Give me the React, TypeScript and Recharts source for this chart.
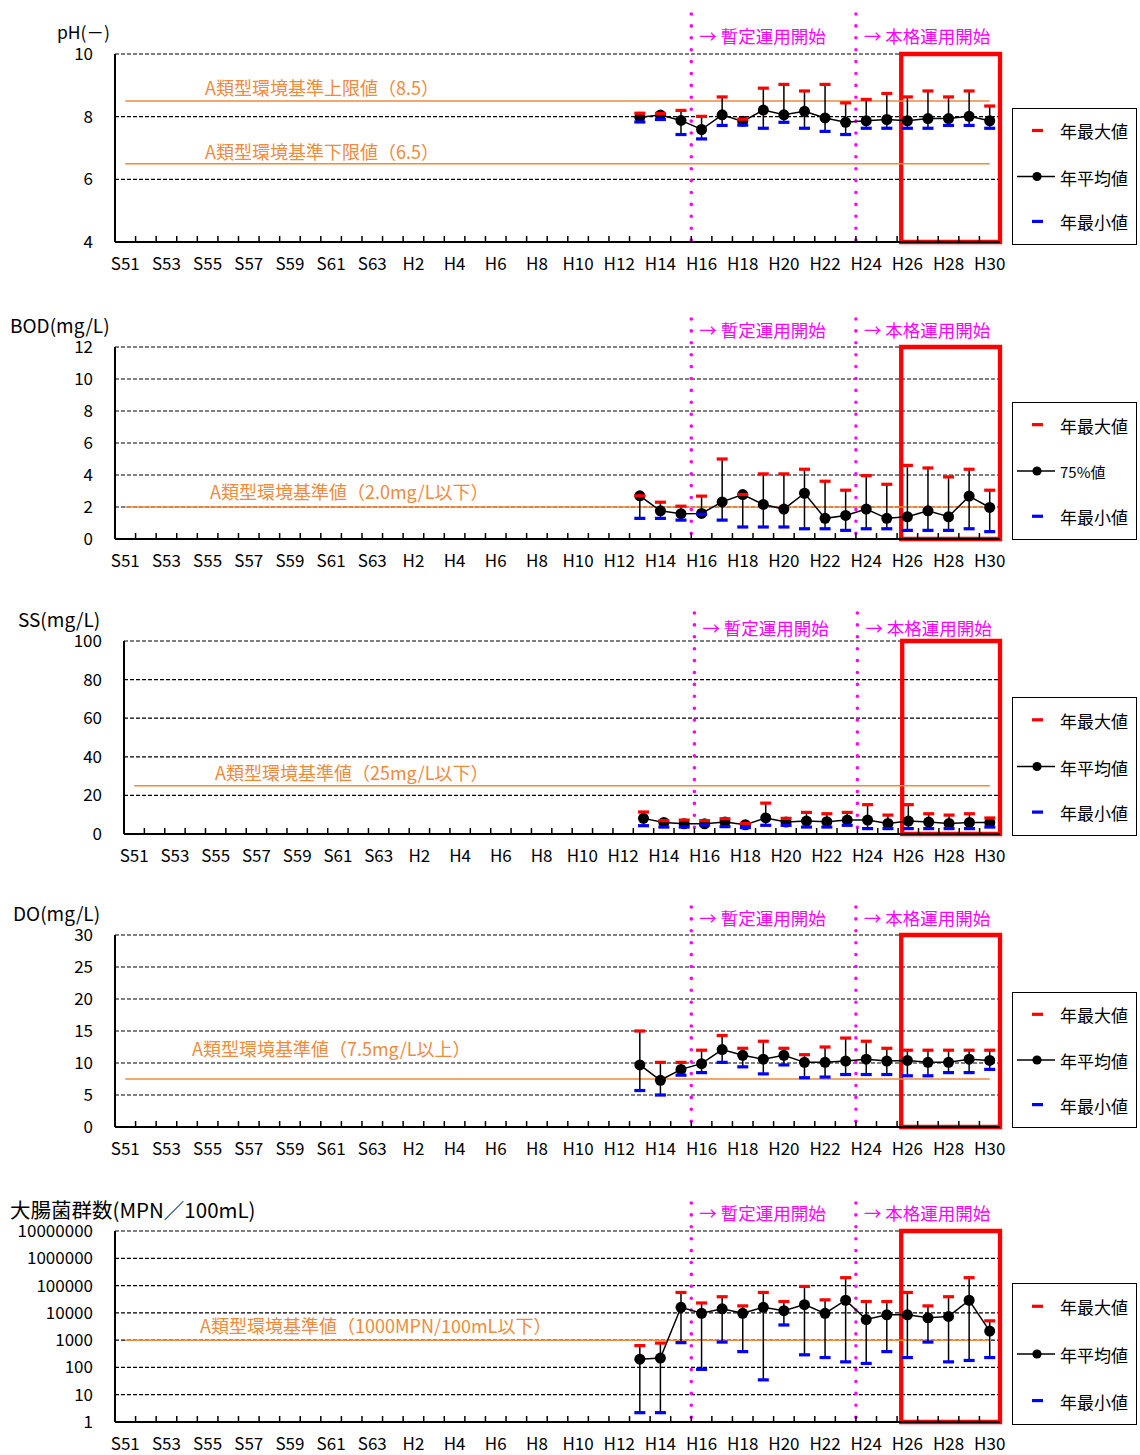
import React from 'react';
import {
  ComposedChart,
  Line,
  XAxis,
  YAxis,
  CartesianGrid,
  ErrorBar,
  ReferenceLine,
  ReferenceArea,
  Legend,
  Customized,
} from 'recharts';

const FONT = '"Noto Sans CJK JP", "Noto Sans", sans-serif';
const ORANGE = '#F08A3C';
const MAGENTA = '#FF00FF';
const RED = '#FF0000';
const BLUE = '#0000FF';

// ---- categories / tick labels ----
const categories = [
  'S51', 'S52', 'S53', 'S54', 'S55', 'S56', 'S57', 'S58', 'S59', 'S60', 'S61', 'S62', 'S63',
  'H1', 'H2', 'H3', 'H4', 'H5', 'H6', 'H7', 'H8', 'H9', 'H10', 'H11', 'H12', 'H13', 'H14', 'H15',
  'H16', 'H17', 'H18', 'H19', 'H20', 'H21', 'H22', 'H23', 'H24', 'H25', 'H26', 'H27', 'H28', 'H29', 'H30',
];
const labelTicks = [0, 2, 4, 6, 8, 10, 12, 14, 16, 18, 20, 22, 24, 26, 28, 30, 32, 34, 36, 38, 40, 42];
const boundaryTicks = [
  0.5, 1.5, 2.5, 3.5, 4.5, 5.5, 6.5, 7.5, 8.5, 9.5, 10.5, 11.5, 12.5, 13.5, 14.5, 15.5, 16.5, 17.5, 18.5, 19.5, 20.5,
  21.5, 22.5, 23.5, 24.5, 25.5, 26.5, 27.5, 28.5, 29.5, 30.5, 31.5, 32.5, 33.5, 34.5, 35.5, 36.5, 37.5, 38.5, 39.5, 40.5, 41.5,
];
const dataYears = ['H13', 'H14', 'H15', 'H16', 'H17', 'H18', 'H19', 'H20', 'H21', 'H22', 'H23', 'H24', 'H25', 'H26', 'H27', 'H28', 'H29', 'H30'];

// ---- pH ----
const phMax = [8.11, 8.1, 8.2, 8.01, 8.63, 7.92, 8.91, 9.03, 8.82, 9.03, 8.44, 8.55, 8.74, 8.63, 8.82, 8.63, 8.82, 8.34];
const phMean = [7.98, 8.05, 7.88, 7.59, 8.06, 7.85, 8.21, 8.06, 8.17, 7.96, 7.82, 7.87, 7.91, 7.87, 7.94, 7.94, 8.01, 7.87];
const phMin = [7.83, 7.91, 7.43, 7.29, 7.72, 7.73, 7.63, 7.82, 7.63, 7.53, 7.43, 7.63, 7.63, 7.63, 7.63, 7.72, 7.72, 7.63];
const phUpper = 8.5;
const phLower = 6.5;

// ---- BOD ----
const bodMax = [2.7, 2.3, 2.05, 2.68, 5.0, 2.78, 4.07, 4.07, 4.36, 3.61, 3.05, 3.96, 3.42, 4.6, 4.44, 3.88, 4.36, 3.05];
const bod75 = [2.7, 1.76, 1.58, 1.6, 2.32, 2.78, 2.16, 1.87, 2.86, 1.29, 1.47, 1.87, 1.29, 1.39, 1.76, 1.39, 2.68, 1.97];
const bodMin = [1.29, 1.29, 1.18, 1.55, 1.18, 0.75, 0.75, 0.75, 0.64, 0.64, 0.54, 0.64, 0.64, 0.54, 0.54, 0.54, 0.64, 0.46];
const bodStd = 2.0;

// ---- SS ----
const ssMax = [11.4, 6.9, 7.2, 6.9, 7.9, 5.5, 16.0, 8.1, 11.2, 10.5, 11.2, 15.2, 9.8, 15.2, 10.5, 9.8, 10.5, 8.3];
const ssMean = [8.1, 6.0, 5.3, 5.3, 6.2, 4.8, 8.3, 6.2, 6.7, 6.4, 7.2, 7.2, 5.5, 6.7, 6.2, 5.5, 6.0, 5.9];
const ssMin = [4.3, 3.6, 3.6, 4.7, 3.8, 3.3, 4.5, 4.5, 3.6, 3.6, 4.5, 2.8, 2.8, 2.8, 2.8, 2.8, 2.8, 3.6];
const ssStd = 25;

// ---- DO ----
const doMax = [15.0, 10.1, 10.1, 12.0, 14.3, 12.3, 13.4, 12.3, 11.3, 12.5, 13.9, 13.4, 12.3, 12.0, 12.0, 12.0, 12.0, 12.0];
const doMean = [9.7, 7.3, 9.0, 9.9, 12.1, 11.2, 10.6, 11.2, 10.1, 10.1, 10.3, 10.6, 10.3, 10.4, 10.1, 10.1, 10.6, 10.4];
const doMin = [5.7, 5.0, 8.1, 8.5, 10.1, 9.4, 8.3, 9.7, 7.7, 7.8, 8.2, 8.2, 8.2, 8.0, 8.0, 8.5, 8.5, 9.0];
const doStd = 7.5;

// ---- Coliform ----
const coliMax = [630, 780, 56000, 23000, 39000, 18000, 56000, 26000, 93000, 30000, 195000, 26000, 26000, 56000, 18000, 39000, 195000, 5100];
const coliMean = [200, 220, 16000, 9600, 14000, 9600, 16000, 12000, 20000, 9600, 29000, 5700, 8500, 8500, 6600, 7400, 29000, 2150];
const coliMin = [2.2, 2.2, 810, 85, 850, 380, 35, 3600, 290, 230, 160, 140, 380, 230, 850, 160, 180, 230];
const coliStd = 1000;

// ---- layout ----
const PANEL_W = 1140;
const PLOT_RIGHT = 1000;
const TOP_MARGIN = 50;
const X_AXIS_H = 40;

type Std = { value: number; label: string; lx: number; ly: number };
type PanelCfg = {
  id: string;
  title: string;
  titleX: number;
  titleY: number;
  titleSize: number;
  plotTop: number;
  plotH: number;
  plotLeft: number;
  yDomain: [number, number];
  yTicks: number[];
  log?: boolean;
  maxVals: number[];
  centerVals: number[];
  minVals: number[];
  centerName: string;
  stds: Std[];
  legendTop: number;
  legendH: number;
  annotUp: number;
  dotUp: number;
};

function buildRows(maxVals: number[], centerVals: number[], minVals: number[], stdVals: number[]) {
  return categories.map((c, i) => {
    const k = dataYears.indexOf(c);
    const row: any = { x: i, cat: c };
    stdVals.forEach((v, j) => {
      row['std' + j] = v;
    });
    row.max = k >= 0 ? maxVals[k] : null;
    row.center = k >= 0 ? centerVals[k] : null;
    row.min = k >= 0 ? minVals[k] : null;
    return row;
  });
}

const errKey = (r: any) => (r.center == null ? null : [r.center - r.min, r.max - r.center]);

const capDot = (color: string) => (p: any) => {
  const { cx, cy, index } = p;
  if (cy == null || cx == null || Number.isNaN(cy)) return <g key={`c-${color}-${index}`} />;
  return <rect key={`c-${color}-${index}`} x={cx - 5.5} y={cy - 1.6} width={11} height={3.2} fill={color} />;
};

function LegendBox({ h, centerName }: { h: number; centerName: string }) {
  const ys = [0.164 * h, 0.5 * h, 0.828 * h];
  return (
    <svg width={126} height={h} style={{ display: 'block' }} fontFamily={FONT}>
      <rect x={0.5} y={0.5} width={124} height={h - 1} fill="#fff" stroke="#000" strokeWidth={1} />
      <rect x={20} y={ys[0] - 1.6} width={11} height={3.2} fill={RED} />
      <text x={48} y={ys[0] + 0.5} fontSize={17} dominantBaseline="central" fill="#000">年最大値</text>
      <line x1={5} x2={43} y1={ys[1]} y2={ys[1]} stroke="#000" strokeWidth={1.5} />
      <circle cx={25} cy={ys[1]} r={4.6} fill="#000" />
      <text x={48} y={ys[1] + 0.5} fontSize={centerName === '75%値' ? 15 : 17} dominantBaseline="central" fill="#000">
        {centerName}
      </text>
      <rect x={20} y={ys[2] - 1.6} width={11} height={3.2} fill={BLUE} />
      <text x={48} y={ys[2] + 0.5} fontSize={17} dominantBaseline="central" fill="#000">年最小値</text>
    </svg>
  );
}

function Panel({ cfg }: { cfg: PanelCfg }) {
  const rows = buildRows(cfg.maxVals, cfg.centerVals, cfg.minVals, cfg.stds.map((s) => s.value));
  const top = cfg.plotTop - TOP_MARGIN;
  const height = TOP_MARGIN + cfg.plotH + X_AXIS_H;

  const annot = (text: string) => (p: any) => {
    const x = Number(p.x1);
    const yTop = Math.min(Number(p.y1), Number(p.y2));
    const yBot = Math.max(Number(p.y1), Number(p.y2));
    return (
      <g>
        <line
          x1={x}
          x2={x}
          y1={yTop - cfg.dotUp}
          y2={yBot}
          stroke={MAGENTA}
          strokeWidth={3.6}
          strokeDasharray="0 11.9"
          strokeLinecap="round"
        />
        <text x={x + 8} y={yTop - cfg.annotUp} fill={MAGENTA} fontSize={17.5} fontFamily={FONT} dominantBaseline="central">
          {text}
        </text>
      </g>
    );
  };

  return (
    <div style={{ position: 'absolute', left: 0, top, width: PANEL_W, height }}>
      <ComposedChart
        width={PANEL_W}
        height={height}
        data={rows}
        margin={{ top: TOP_MARGIN, right: PANEL_W - PLOT_RIGHT, bottom: 0, left: 0 }}
      >
        <CartesianGrid horizontal vertical={false} stroke="#000" strokeDasharray="4 2" strokeWidth={1.2} />
        <XAxis
          dataKey="x"
          type="number"
          domain={[-0.5, 42.5]}
          allowDataOverflow
          ticks={labelTicks}
          interval={0}
          tickFormatter={(v: number) => categories[v] ?? ''}
          tickLine={false}
          tickSize={0}
          tickMargin={16}
          height={X_AXIS_H}
          axisLine={{ stroke: '#000', strokeWidth: 2 }}
          tick={{ fill: '#000', fontSize: 17, fontFamily: FONT }}
        />
        <XAxis
          xAxisId="t"
          dataKey="x"
          type="number"
          domain={[-0.5, 42.5]}
          allowDataOverflow
          ticks={boundaryTicks}
          interval={0}
          mirror
          axisLine={false}
          tickSize={6}
          tickLine={{ stroke: '#000', strokeWidth: 1.5 }}
          tickFormatter={() => ''}
        />
        <YAxis
          type="number"
          scale={cfg.log ? 'log' : 'auto'}
          domain={cfg.yDomain}
          allowDataOverflow
          ticks={cfg.yTicks}
          interval={0}
          width={cfg.plotLeft}
          tickLine={false}
          tickSize={0}
          tickMargin={22}
          axisLine={{ stroke: '#000', strokeWidth: 2 }}
          tick={{ fill: '#000', fontSize: 17, fontFamily: FONT }}
        />
        <ReferenceLine x={27.5} ifOverflow="visible" shape={annot('→ 暫定運用開始')} />
        <ReferenceLine x={35.5} ifOverflow="visible" shape={annot('→ 本格運用開始')} />
        {cfg.stds.map((s, j) => (
          <Line
            key={'std' + j}
            dataKey={'std' + j}
            stroke={ORANGE}
            strokeWidth={1.5}
            dot={false}
            activeDot={false}
            isAnimationActive={false}
            legendType="none"
          />
        ))}
        <Line
          dataKey="center"
          stroke="#000"
          strokeWidth={1.5}
          dot={{ r: 5.5, fill: '#000', stroke: 'none' }}
          activeDot={false}
          isAnimationActive={false}
          legendType="none"
        >
          <ErrorBar dataKey={errKey} width={0} stroke="#000" strokeWidth={1.5} direction="y" />
        </Line>
        <Line
          dataKey="max"
          stroke="none"
          dot={capDot(RED)}
          activeDot={false}
          isAnimationActive={false}
          legendType="none"
        />
        <Line
          dataKey="min"
          stroke="none"
          dot={capDot(BLUE)}
          activeDot={false}
          isAnimationActive={false}
          legendType="none"
        />
        <ReferenceArea x1={37.7} x2={42.5} fill="none" stroke={RED} strokeWidth={4.3} ifOverflow="visible" />
        <Customized
          component={() => (
            <g fontFamily={FONT}>
              <text x={cfg.titleX} y={cfg.titleY - top} fontSize={cfg.titleSize} dominantBaseline="central" fill="#000">
                {cfg.title}
              </text>
              {cfg.stds.map((s, i) => (
                <text key={i} x={s.lx} y={s.ly - top} fill={ORANGE} fontSize={18} dominantBaseline="central">
                  {s.label}
                </text>
              ))}
            </g>
          )}
        />
        <Legend
          layout="horizontal"
          align="center"
          verticalAlign="middle"
          wrapperStyle={{ left: 1012, top: cfg.legendTop - top, width: 126, height: cfg.legendH, margin: 0, padding: 0 }}
          content={() => <LegendBox h={cfg.legendH} centerName={cfg.centerName} />}
        />
      </ComposedChart>
    </div>
  );
}

const panels: PanelCfg[] = [
  {
    id: 'ph',
    title: 'pH(－)',
    titleX: 57,
    titleY: 31,
    titleSize: 17.5,
    plotTop: 54,
    plotH: 188,
    plotLeft: 115,
    yDomain: [4, 10],
    yTicks: [4, 6, 8, 10],
    maxVals: phMax,
    centerVals: phMean,
    minVals: phMin,
    centerName: '年平均値',
    stds: [
      { value: phUpper, label: 'A類型環境基準上限値（8.5）', lx: 205, ly: 87 },
      { value: phLower, label: 'A類型環境基準下限値（6.5）', lx: 205, ly: 151 },
    ],
    legendTop: 107.5,
    legendH: 137,
    annotUp: 19,
    dotUp: 40,
  },
  {
    id: 'bod',
    title: 'BOD(mg/L)',
    titleX: 10,
    titleY: 324,
    titleSize: 19,
    plotTop: 347,
    plotH: 192,
    plotLeft: 115,
    yDomain: [0, 12],
    yTicks: [0, 2, 4, 6, 8, 10, 12],
    maxVals: bodMax,
    centerVals: bod75,
    minVals: bodMin,
    centerName: '75%値',
    stds: [{ value: bodStd, label: 'A類型環境基準値（2.0mg/L以下）', lx: 210, ly: 491 }],
    legendTop: 402,
    legendH: 138,
    annotUp: 18,
    dotUp: 28,
  },
  {
    id: 'ss',
    title: 'SS(mg/L)',
    titleX: 18,
    titleY: 618,
    titleSize: 19,
    plotTop: 641,
    plotH: 193,
    plotLeft: 124,
    yDomain: [0, 100],
    yTicks: [0, 20, 40, 60, 80, 100],
    maxVals: ssMax,
    centerVals: ssMean,
    minVals: ssMin,
    centerName: '年平均値',
    stds: [{ value: ssStd, label: 'A類型環境基準値（25mg/L以下）', lx: 215, ly: 772 }],
    legendTop: 697,
    legendH: 139,
    annotUp: 14,
    dotUp: 28,
  },
  {
    id: 'do',
    title: 'DO(mg/L)',
    titleX: 13,
    titleY: 912,
    titleSize: 19,
    plotTop: 935,
    plotH: 192,
    plotLeft: 115,
    yDomain: [0, 30],
    yTicks: [0, 5, 10, 15, 20, 25, 30],
    maxVals: doMax,
    centerVals: doMean,
    minVals: doMin,
    centerName: '年平均値',
    stds: [{ value: doStd, label: 'A類型環境基準値（7.5mg/L以上）', lx: 192, ly: 1048 }],
    legendTop: 992,
    legendH: 136,
    annotUp: 18,
    dotUp: 28,
  },
  {
    id: 'coli',
    title: '大腸菌群数(MPN／100mL)',
    titleX: 10,
    titleY: 1209,
    titleSize: 20.5,
    plotTop: 1231,
    plotH: 191,
    plotLeft: 115,
    yDomain: [1, 10000000],
    yTicks: [1, 10, 100, 1000, 10000, 100000, 1000000, 10000000],
    log: true,
    maxVals: coliMax,
    centerVals: coliMean,
    minVals: coliMin,
    centerName: '年平均値',
    stds: [{ value: coliStd, label: 'A類型環境基準値（1000MPN/100mL以下）', lx: 200, ly: 1325 }],
    legendTop: 1283,
    legendH: 142,
    annotUp: 19,
    dotUp: 28,
  },
];

export default function App() {
  return (
    <div style={{ position: 'absolute', left: 0, top: 0, width: 1140, height: 1455, background: '#fff' }}>
      {panels.map((p) => (
        <Panel key={p.id} cfg={p} />
      ))}
    </div>
  );
}
